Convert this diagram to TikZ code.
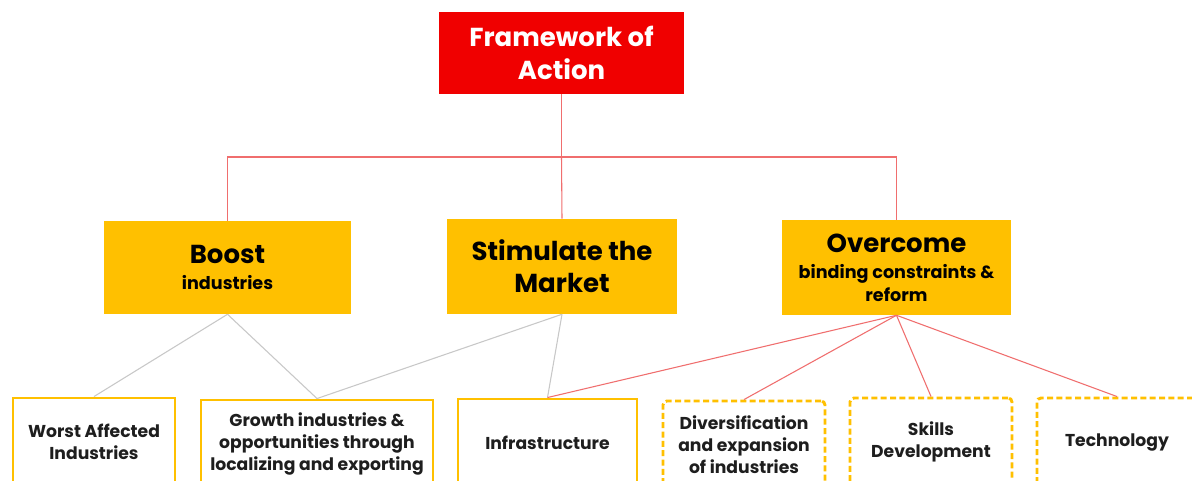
\documentclass[tikz,border=0pt]{standalone}
\usepackage{fontspec}
\setmainfont{Poppins}
\definecolor{fwred}{RGB}{240,0,0}
\definecolor{gold}{RGB}{255,192,0}
\definecolor{linkred}{RGB}{240,110,110}
\definecolor{linkgray}{RGB}{200,200,200}
\definecolor{textdark}{RGB}{30,30,30}
\tikzset{
  px/.style={x=0.75pt,y=-0.75pt},
  topbox/.style={fill=fwred, text=white, align=center, inner sep=0pt,
    font=\bfseries\fontsize{19.5}{25}\selectfont,
    minimum width=183.75pt, minimum height=61.5pt},
  midbox/.style={fill=gold, text=black, align=center, inner sep=0pt},
  leafbox/.style={draw=gold, line width=2.2pt, align=center, inner sep=0pt,
    text=textdark, font=\bfseries\fontsize{12.9}{16.5}\selectfont, minimum height=66pt},
  dleafbox/.style={leafbox, dash pattern=on 4.5pt off 2.5pt, rounded corners=3pt},
  redlink/.style={draw=linkred, line width=0.8pt},
  graylink/.style={draw=linkgray, line width=0.8pt},
}
\newcommand{\smallt}{\fontsize{13.2}{17}\selectfont}
\begin{document}
\begin{tikzpicture}[px]
\useasboundingbox (0,0) rectangle (1192,480);
\clip (0,0) rectangle (1192,480);
\fill[white] (0,0) rectangle (1192,480);
% top
\node[topbox] (fw) at (561.5,53) {Framework of\\Action};
% middle
\node[midbox, font=\bfseries\fontsize{19.5}{19}\selectfont,
  minimum width=185.25pt, minimum height=69.75pt] (boost) at (227.5,267.5)
  {Boost\\\smallt industries};
\node[midbox, font=\bfseries\fontsize{19.5}{24}\selectfont,
  minimum width=172.5pt, minimum height=71.25pt] (stim) at (562,266.5)
  {Stimulate the\\Market};
\node[midbox, font=\bfseries\fontsize{19.5}{17}\selectfont,
  minimum width=171.75pt, minimum height=71.25pt] (over) at (896.5,267.5)
  {Overcome\\[3pt]\smallt binding constraints \&\\\smallt reform};
% leaves
\node[leafbox, minimum width=121.5pt] (worst) at (94,442) {Worst Affected\\Industries};
\node[leafbox, minimum width=174pt] (growth) at (317,444) {Growth industries \&\\opportunities through\\localizing and exporting};
\node[leafbox, minimum width=134.25pt] (infra) at (547.5,443) {Infrastructure};
\node[dleafbox, minimum width=121.5pt] (div) at (744,445) {Diversification\\and expansion\\of industries};
\node[dleafbox, minimum width=121.5pt] (skills) at (931,442) {Skills\\Development};
\node[dleafbox, minimum width=120pt] (tech) at (1117,442) {Technology};
% top connectors
\coordinate (bus) at (561.5,157);
\draw[redlink] (fw.south) -- (bus);
\draw[redlink] (boost.north) |- (bus) -| (over.north);
\draw[redlink] (bus) -- (stim.north);
% lower connectors
\draw[graylink] (boost.south) -- (worst.north);
\draw[graylink] (boost.south) -- (growth.north);
\draw[graylink] (stim.south) -- (growth.north);
\draw[graylink] (stim.south) -- (infra.north);
\draw[redlink] (over.south) -- (infra.north);
\draw[redlink] (over.south) -- (div.north);
\draw[redlink] (over.south) -- (skills.north);
\draw[redlink] (over.south) -- (tech.north);
\end{tikzpicture}
\end{document}
